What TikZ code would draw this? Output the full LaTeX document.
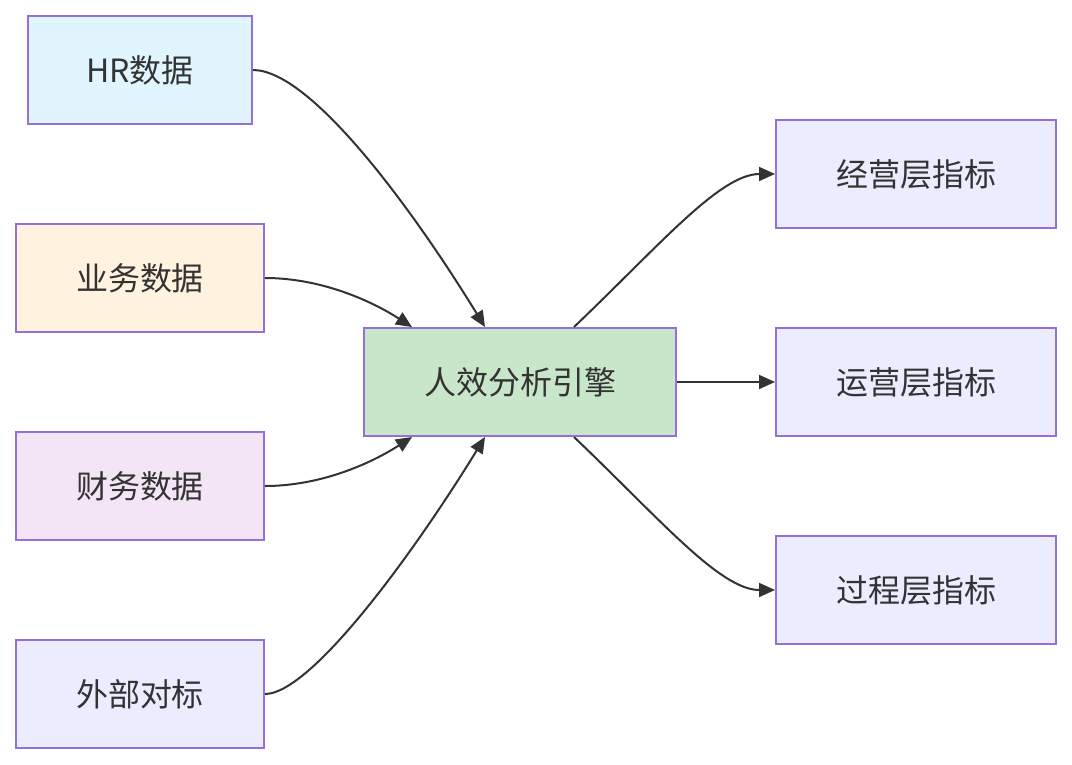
\documentclass[tikz,border=0pt]{standalone}
\usepackage{fontspec}
\setmainfont{Noto Sans CJK SC}
\usetikzlibrary{arrows.meta}
\definecolor{bord}{HTML}{9370DB}
\definecolor{txt}{HTML}{333333}
\definecolor{cHR}{HTML}{E1F5FE}
\definecolor{cBiz}{HTML}{FFF3E0}
\definecolor{cFin}{HTML}{F3E5F5}
\definecolor{cExt}{HTML}{ECECFF}
\definecolor{cEng}{HTML}{C8E6C9}
\begin{document}
\begin{tikzpicture}[x=1pt,y=-1pt,
  box/.style={draw=bord,line width=2pt,text=txt,inner sep=0pt,font=\fontsize{32}{38}\selectfont},
  conn/.style={draw=txt,line width=2pt,-{Triangle[length=16pt,width=14pt]}}]
\useasboundingbox (0,0) rectangle (1072,764);
\node[box,fill=cHR,minimum width=224pt,minimum height=108pt] (hr) at (140,70) {HR数据};
\node[box,fill=cBiz,minimum width=248pt,minimum height=108pt] (biz) at (140,278) {业务数据};
\node[box,fill=cFin,minimum width=248pt,minimum height=108pt] (fin) at (140,486) {财务数据};
\node[box,fill=cExt,minimum width=248pt,minimum height=108pt] (ext) at (140,694) {外部对标};
\node[box,fill=cEng,minimum width=312pt,minimum height=108pt] (eng) at (520,382) {人效分析引擎};
\node[box,fill=cExt,minimum width=280pt,minimum height=108pt] (m1) at (916,174) {经营层指标};
\node[box,fill=cExt,minimum width=280pt,minimum height=108pt] (m2) at (916,382) {运营层指标};
\node[box,fill=cExt,minimum width=280pt,minimum height=108pt] (m3) at (916,590) {过程层指标};
\draw[conn] (hr.east) .. controls (310,70) and (410,205) .. ([xshift=-35pt]eng.north);
\draw[conn] (biz.east) .. controls (320,278) and (370,300) .. ([xshift=-108pt]eng.north);
\draw[conn] (fin.east) .. controls (320,486) and (370,464) .. ([xshift=-108pt]eng.south);
\draw[conn] (ext.east) .. controls (310,694) and (410,559) .. ([xshift=-35pt]eng.south);
\draw[conn] ([xshift=54pt]eng.north) .. controls (660,245) and (720,174) .. (m1.west);
\draw[conn] (eng.east) -- (m2.west);
\draw[conn] ([xshift=54pt]eng.south) .. controls (660,519) and (720,590) .. (m3.west);
\end{tikzpicture}
\end{document}
